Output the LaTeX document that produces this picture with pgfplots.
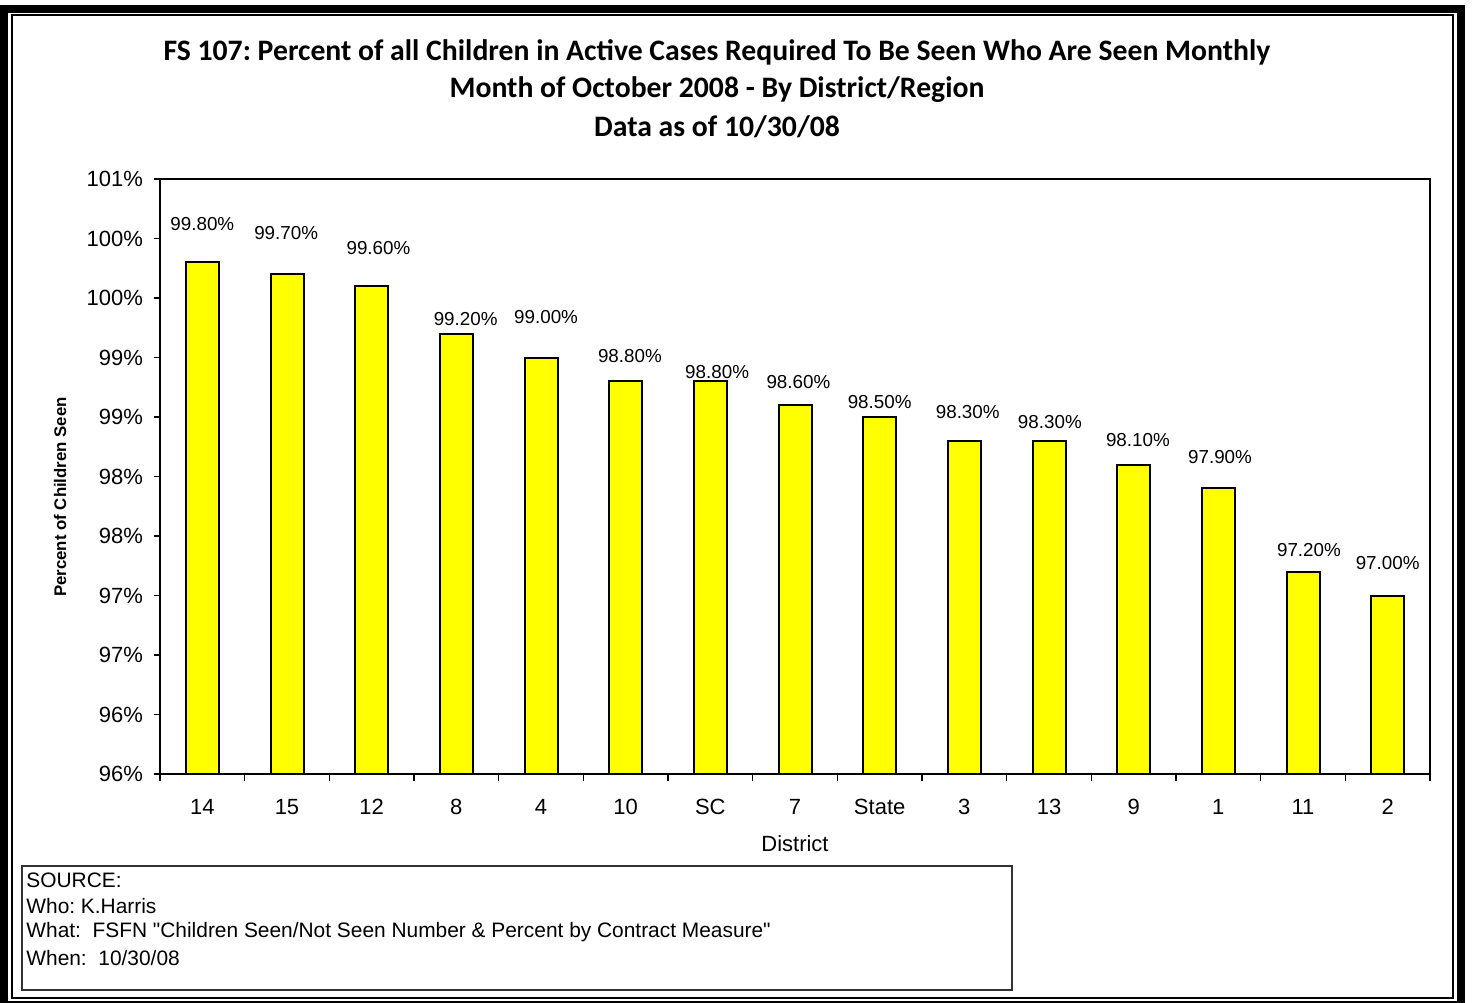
\documentclass[border=0pt]{standalone}
\usepackage{fontspec}
\setmainfont{Liberation Sans}
\newfontfamily\calibri{Carlito}
\newfontfamily\plainsans[Ligatures=TeXOff]{Liberation Sans}
\usepackage{pgfplots}
\pgfplotsset{compat=1.18}
\usepackage{pgfplotstable}
\definecolor{baryellow}{RGB}{255,255,0}
\frenchspacing

% bar heights as drawn
\pgfplotstableread{
x h
0 100.3
1 100.2
2 100.1
3 99.7
4 99.5
5 99.3
6 99.3
7 99.1
8 99.0
9 98.8
10 98.8
11 98.6
12 98.4
13 97.7
14 97.5
}\bars

% data labels: position and printed value
\pgfplotstableread{
lx ly v
0.00 100.62 99.80
0.99 100.55 99.70
2.08 100.42 99.60
3.11 99.82 99.20
4.06 99.84 99.00
5.05 99.51 98.80
6.08 99.38 98.80
7.04 99.29 98.60
8.00 99.13 98.50
9.04 99.04 98.30
10.01 98.96 98.30
11.05 98.81 98.10
12.02 98.66 97.90
13.07 97.88 97.20
14.00 97.77 97.00
}\labels

\begin{document}
\frenchspacing
\begin{tikzpicture}
\useasboundingbox (0,0) rectangle (742pt,-501pt);
% frame
\draw[line width=4pt] (2.2pt,-4.4pt) rectangle (730.5pt,-502.5pt);
\draw[line width=0.6pt] (6pt,-7.5pt) rectangle (726.5pt,-499pt);

% title
\node[font=\calibri\bfseries\fontsize{14.85}{18}\selectfont] at (358.5pt,-26pt) {FS 107: Percent of all Children in Active Cases Required To Be Seen Who Are Seen Monthly};
\node[font=\calibri\bfseries\fontsize{14.85}{18}\selectfont] at (358.5pt,-45pt) {Month of October 2008 - By District/Region};
\node[font=\calibri\bfseries\fontsize{14.85}{18}\selectfont] at (358.5pt,-63.5pt) {Data as of 10/30/08};

\begin{axis}[
  at={(80pt,-387pt)}, anchor=south west,
  scale only axis, width=635pt, height=297.5pt,
  xmin=-0.5, xmax=14.5, ymin=96, ymax=101,
  axis line style={line width=0.8pt},
  tick align=outside,
  xtick pos=bottom, ytick pos=left,
  xtick={0,...,14},
  xticklabels={14,15,12,8,4,10,SC,7,State,3,13,9,1,11,2},
  major x tick style={draw=none},
  minor xtick={-0.5,0.5,1.5,2.5,3.5,4.5,5.5,6.5,7.5,8.5,9.5,10.5,11.5,12.5,13.5,14.5},
  minor x tick style={black, line width=0.6pt},
  minor tick length=3.5pt,
  ytick={96,96.5,97,97.5,98,98.5,99,99.5,100,100.5,101},
  yticklabels={96\%,96\%,97\%,97\%,98\%,98\%,99\%,99\%,100\%,100\%,101\%},
  major y tick style={black, line width=0.6pt},
  major tick length=3pt,
  ticklabel style={font=\fontsize{11}{13}\selectfont},
  yticklabel style={xshift=-2pt},
  xticklabel style={yshift=-6pt},
  /pgf/number format/assume math mode=true,
]
\addplot[ybar, bar width=16.5pt, fill=baryellow, draw=black, line width=1pt] table[x=x,y=h]{\bars};
\addplot[only marks, mark=none,
  point meta=explicit,
  nodes near coords={\pgfmathprintnumber[fixed,fixed zerofill,precision=2]{\pgfplotspointmeta}\%},
  nodes near coords style={anchor=center, font=\fontsize{9.4}{11}\selectfont, inner sep=0pt}]
  table[x=lx,y=ly,meta=v]{\labels};
\end{axis}

% axis titles
\node[rotate=90, font=\bfseries\fontsize{8.4}{10}\selectfont] at (30pt,-248.5pt) {Percent of Children Seen};
\node[font=\fontsize{11}{13}\selectfont] at (397.5pt,-422pt) {District};

% source box
\draw[line width=0.6pt, black!80] (11pt,-433pt) rectangle (506pt,-495pt);
\begin{scope}[every node/.style={anchor=west, font=\plainsans\fontsize{10.45}{12}\selectfont, inner sep=0pt}]
\node at (13pt,-440pt) {SOURCE:};
\node at (13pt,-453pt) {Who: K.Harris};
\node at (13pt,-466pt) {What:\ \ FSFN "Children Seen/Not Seen Number \& Percent by Contract Measure"};
\node at (13pt,-479pt) {When:\ \ 10/30/08};
\end{scope}
\end{tikzpicture}
\end{document}
